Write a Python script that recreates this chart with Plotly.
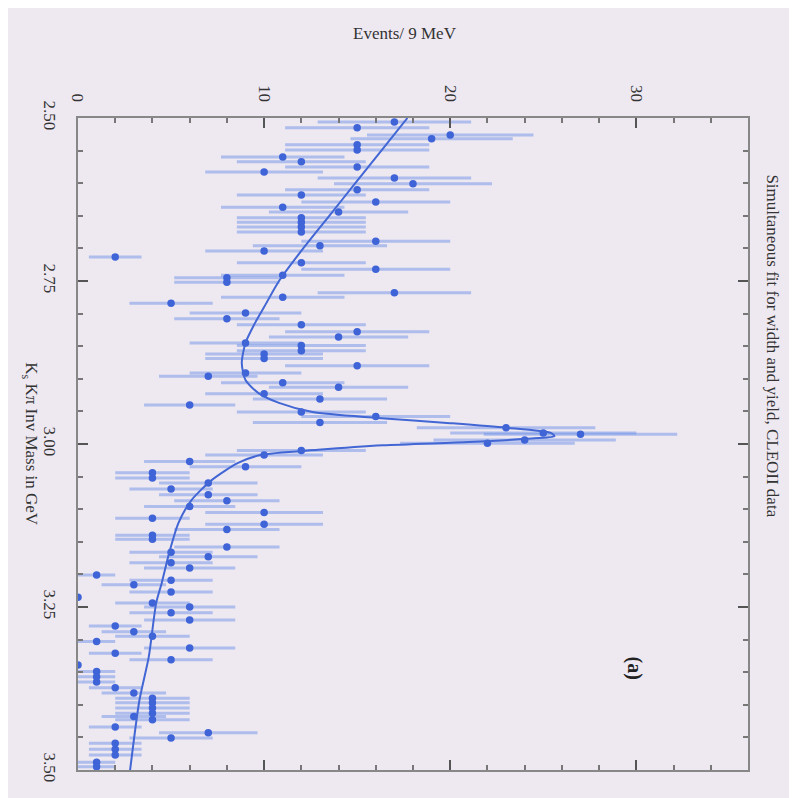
import numpy as np
import plotly.graph_objects as go

# ---- data ----
mass = [2.506, 2.515, 2.526, 2.532, 2.541, 2.549, 2.560, 2.567, 2.575, 2.583,
        2.592, 2.601, 2.610, 2.618, 2.629, 2.637, 2.644, 2.653, 2.660, 2.667,
        2.675, 2.689, 2.696, 2.704, 2.713, 2.722, 2.732, 2.741, 2.745, 2.752,
        2.768, 2.775, 2.784, 2.799, 2.808, 2.817, 2.828, 2.836, 2.845, 2.849,
        2.857, 2.862, 2.869, 2.880, 2.891, 2.896, 2.906, 2.913, 2.923, 2.931,
        2.940, 2.951, 2.958, 2.967, 2.975, 2.983, 2.985, 2.994, 2.999, 3.010,
        3.017, 3.027, 3.035, 3.044, 3.052, 3.060, 3.069, 3.078, 3.087, 3.096,
        3.105, 3.114, 3.123, 3.131, 3.140, 3.146, 3.158, 3.166, 3.173, 3.182,
        3.190, 3.201, 3.209, 3.216, 3.227, 3.235, 3.244, 3.250, 3.259, 3.270,
        3.279, 3.288, 3.295, 3.303, 3.313, 3.321, 3.331, 3.339, 3.349, 3.357,
        3.365, 3.374, 3.382, 3.390, 3.397, 3.405, 3.413, 3.418, 3.423, 3.434,
        3.443, 3.451, 3.459, 3.468, 3.477, 3.488, 3.495]
events = [17, 15, 20, 19, 15, 15, 11, 12, 15, 10,
          17, 18, 15, 12, 16, 11, 14, 12, 12, 12,
          12, 16, 13, 10, 2, 12, 16, 11, 8, 8,
          17, 11, 5, 9, 8, 12, 15, 14, 9, 12,
          12, 10, 10, 15, 9, 7, 11, 14, 10, 13,
          6, 12, 16, 13, 23, 25, 27, 24, 22, 12,
          10, 6, 9, 4, 4, 7, 5, 7, 8, 6,
          10, 4, 10, 8, 4, 4, 8, 5, 7, 5,
          6, 1, 5, 3, 5, 0, 4, 6, 5, 6,
          2, 3, 4, 1, 6, 2, 5, 0, 1, 1,
          1, 2, 3, 4, 4, 4, 4, 3, 4, 2,
          7, 5, 2, 2, 2, 1, 1]

fit_mass = [2.500, 2.550, 2.600, 2.650, 2.700, 2.750, 2.790, 2.815, 2.845, 2.876,
            2.902, 2.922, 2.937, 2.951, 2.960, 2.968, 2.975, 2.983, 2.988, 2.992,
            2.997, 3.002, 3.009, 3.017, 3.029, 3.055, 3.086, 3.121, 3.167, 3.213,
            3.244, 3.327, 3.393, 3.500]
fit_events = [17.7, 16.3, 14.9, 13.5, 12.1, 10.8, 10.0, 9.5, 9.0, 8.8,
              9.0, 9.7, 10.8, 12.6, 16.1, 20.0, 23.0, 25.4, 25.6, 24.1,
              21.0, 16.4, 12.9, 9.8, 8.6, 7.2, 6.1, 5.4, 4.9, 4.5,
              4.2, 3.8, 3.3, 2.8]

x_ticks = [0, 10, 20, 30]
y_ticks = [2.50, 2.75, 3.00, 3.25, 3.50]
y_ticklabels = ["2.50", "2.75", "3.00", "3.25", "3.50"]

BG = "#eee9f1"
SERIF = "Liberation Serif"

errs = np.sqrt(np.array(events, dtype=float))

fig = go.Figure()
fig.add_trace(go.Scatter(
    x=events, y=mass, mode="markers",
    marker=dict(color="#3f64d8", size=7.5),
    error_x=dict(type="data", array=errs, visible=True,
                 color="rgba(110,145,232,0.5)", thickness=3, width=0),
    hoverinfo="skip"))
fig.add_trace(go.Scatter(
    x=fit_events, y=fit_mass, mode="lines",
    line=dict(color="#4266d4", width=2, shape="spline", smoothing=0.7),
    hoverinfo="skip"))

# page body has an 8px margin, so the figure is 8px smaller in each direction
fig.update_layout(
    width=789, height=790,
    paper_bgcolor=BG, plot_bgcolor=BG,
    margin=dict(l=70, r=49, t=110, b=28),
    showlegend=False,
    font=dict(family=SERIF, color="#333"),
)
fig.update_xaxes(
    range=[0, 36], side="top", automargin=False,
    tickvals=x_ticks, ticktext=[str(v) for v in x_ticks], tickangle=90,
    tickfont=dict(size=17, family=SERIF, color="#333"),
    ticks="inside", ticklen=10, tickwidth=1.5, tickcolor="#555",
    minor=dict(dtick=2, tick0=0, ticks="inside", ticklen=5, tickcolor="#777"),
    showline=True, linecolor="#888", linewidth=2, mirror="allticks",
    showgrid=False, zeroline=False, ticklabelstandoff=8)
fig.update_yaxes(
    range=[3.5, 2.5], automargin=False,
    tickvals=y_ticks, ticktext=y_ticklabels, tickangle=90,
    tickfont=dict(size=17, family=SERIF, color="#333"),
    ticks="inside", ticklen=10, tickwidth=1.5, tickcolor="#555",
    minor=dict(dtick=0.05, tick0=2.5, ticks="inside", ticklen=5, tickcolor="#777"),
    showline=True, linecolor="#888", linewidth=2, mirror="allticks",
    showgrid=False, zeroline=False, ticklabelstandoff=12)

fig.add_annotation(text="Events/ 9 MeV", xref="paper", yref="paper",
                   x=0.488, y=1.13, xanchor="center", yanchor="middle",
                   showarrow=False,
                   font=dict(size=17, family=SERIF, color="#333"))
fig.add_annotation(text="K<sub>s</sub> Kπ Inv Mass in GeV", xref="paper", yref="paper",
                   x=-0.072, y=0.5, xanchor="center", yanchor="middle",
                   showarrow=False, textangle=90,
                   font=dict(size=17, family=SERIF, color="#333"))
fig.add_annotation(text="Simultaneous fit for width and yield, CLEOII data",
                   xref="paper", yref="paper", x=1.037, y=0.65,
                   xanchor="center", yanchor="middle", showarrow=False,
                   textangle=90, font=dict(size=17, family=SERIF, color="#333"))
fig.add_annotation(text="<b>(a)</b>", xref="paper", yref="paper",
                   x=0.831, y=0.156, xanchor="center", yanchor="middle",
                   showarrow=False, textangle=90,
                   font=dict(size=20, family=SERIF, color="#222"))

fig.write_html("out.html")
